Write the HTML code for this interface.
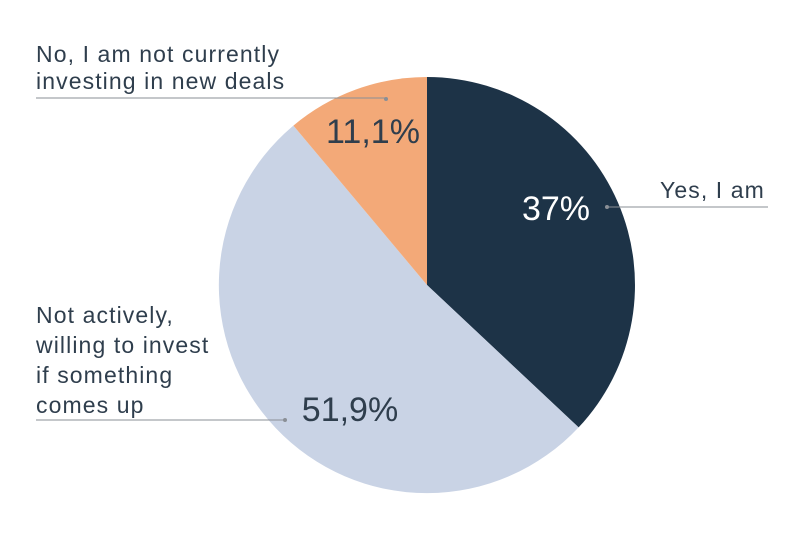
<!DOCTYPE html>
<html><head><meta charset="utf-8"><style>
html,body{margin:0;padding:0;background:#fff;}
svg{display:block;}
text{font-family:"Liberation Sans",sans-serif;}
</style></head><body>
<svg width="801" height="536" viewBox="0 0 801 536" xmlns="http://www.w3.org/2000/svg">
<rect width="801" height="536" fill="#fff"/>
<path d="M427,285 L427,77 A208,208 0 0,1 578.6,427.4 Z" fill="#1d3347"/>
<path d="M427,285 L578.6,427.4 A208,208 0 1,1 293.4,125.6 Z" fill="#c9d3e5"/>
<path d="M427,285 L293.4,125.6 A208,208 0 0,1 427,77 Z" fill="#f3a978"/>
<text x="556" y="220" font-size="34" fill="#fff" text-anchor="middle">37%</text>
<text x="350" y="421" font-size="34" fill="#2f3e4d" text-anchor="middle">51,9%</text>
<text x="373" y="143" font-size="34" fill="#2f3e4d" text-anchor="middle">11,1%</text>
<g stroke="#8a8f96" stroke-width="1" fill="none">
<line x1="607" y1="207" x2="768" y2="207"/>
<line x1="36" y1="98" x2="386" y2="98"/>
<line x1="36" y1="420" x2="285" y2="420"/>
</g>
<g fill="#8a8f96">
<circle cx="607" cy="207" r="2"/>
<circle cx="386" cy="99" r="2"/>
<circle cx="285" cy="420" r="2"/>
</g>
<g font-size="23" fill="#2f3e4d" letter-spacing="1.1">
<text x="660" y="198">Yes, I am</text>
<text x="36" y="62">No, I am not currently</text>
<text x="36" y="89">investing in new deals</text>
<text x="36" y="323">Not actively,</text>
<text x="36" y="353">willing to invest</text>
<text x="36" y="383">if something</text>
<text x="36" y="413">comes up</text>
</g>
</svg>
</body></html>
